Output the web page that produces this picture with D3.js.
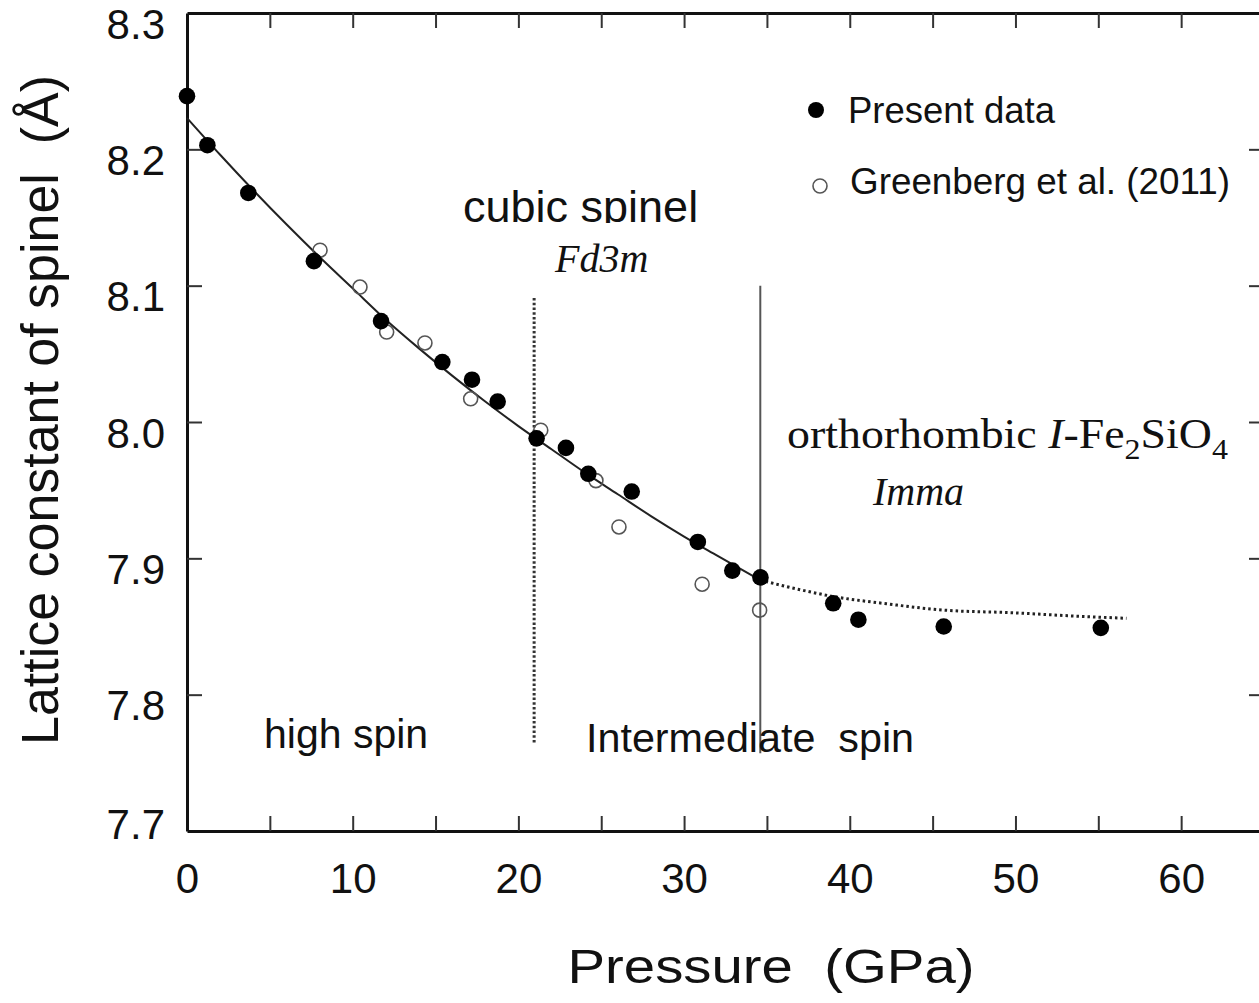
<!DOCTYPE html>
<html>
<head>
<meta charset="utf-8">
<script src="https://cdnjs.cloudflare.com/ajax/libs/d3/7.8.5/d3.min.js"></script>
<style>
body { margin: 0; background: #fff; }
text { font-family: "Liberation Sans", Arial, sans-serif; fill: #111; }
.serif { font-family: "Liberation Serif", "Times New Roman", serif; }
.frame path.domain { stroke: #111; stroke-width: 3px; }
.frame line { stroke: #333; stroke-width: 2px; }
.lbl path.domain { display: none; }
</style>
</head>
<body>
<div class="lattice"></div>
<script>
// PRESENT DATA (FILLED)
var presentP = [0, 1.23, 3.70, 7.66, 11.71, 15.41, 17.20, 18.75, 21.10, 22.87, 24.22, 26.84, 30.83, 32.91, 34.61, 39.0, 40.52, 45.67, 55.15]
var presentA = [8.239, 8.203, 8.168, 8.118, 8.074, 8.044, 8.031, 8.015, 7.988, 7.981, 7.962, 7.949, 7.912, 7.891, 7.886, 7.867, 7.855, 7.850, 7.849]

// GREENBERG ET AL. 2011 (OPEN)
var greenbergP = [8.03, 10.44, 12.05, 14.36, 17.12, 21.35, 24.68, 26.07, 31.09, 34.56]
var greenbergA = [8.126, 8.099, 8.066, 8.058, 8.017, 7.994, 7.957, 7.923, 7.881, 7.862]

// FITTED CURVE (SOLID) AND EXTENSION (DOTTED)
var fitP = [0, 2, 4, 6, 8, 10, 12, 14, 16, 18, 20, 22, 24, 26, 28, 30, 32, 34.6]
var fitA = [8.223, 8.196, 8.170, 8.145, 8.121, 8.098, 8.075, 8.054, 8.034, 8.015, 7.997, 7.980, 7.963, 7.947, 7.931, 7.916, 7.902, 7.884]
var extP = [34.6, 37, 39, 42, 45.7, 50, 53, 56.7]
var extA = [7.884, 7.877, 7.872, 7.867, 7.862, 7.860, 7.858, 7.856]

// BOUNDARIES: [pressure, bottom, top]
var spinBoundary = [20.95, 7.765, 8.092]
var phaseBoundary = [34.6, 7.757, 8.100]

// TICKS
var xLabels = [0, 10, 20, 30, 40, 50, 60]
var xMarks = [5, 10, 15, 20, 25, 30, 35, 40, 45, 50, 55, 60]
var yLabels = [7.7, 7.8, 7.9, 8.0, 8.1, 8.2, 8.3]
var yMarks = [7.8, 7.9, 8.0, 8.1, 8.2]

var W = 1259, H = 1003

var svg = d3.select(".lattice").append("svg")
    .attr("width", W)
    .attr("height", H)
    .style("display", "block")
    .style("background", "#fff")

var x = d3.scaleLinear().domain([0, 65]).range([187, 1264])
var y = d3.scaleLinear().domain([7.7, 8.3]).range([831, 13])

// FRAME WITH INWARD TICKS
var frame = svg.append("g").attr("class", "frame")
frame.append("g").attr("transform", "translate(0," + y(7.7) + ")")
    .call(d3.axisBottom(x).tickValues(xMarks).tickSize(-15).tickSizeOuter(0).tickFormat(""))
frame.append("g").attr("transform", "translate(0," + y(8.3) + ")")
    .call(d3.axisTop(x).tickValues(xMarks).tickSize(-15).tickSizeOuter(0).tickFormat(""))
frame.append("g").attr("transform", "translate(" + x(0) + ",0)")
    .call(d3.axisLeft(y).tickValues(yMarks).tickSize(-15).tickSizeOuter(0).tickFormat(""))
frame.append("g").attr("transform", "translate(" + x(65) + ",0)")
    .call(d3.axisRight(y).tickValues(yMarks).tickSize(-15).tickSizeOuter(0).tickFormat(""))

// TICK LABELS
var xl = svg.append("g").attr("class", "lbl")
    .attr("transform", "translate(0," + y(7.7) + ")")
    .call(d3.axisBottom(x).tickValues(xLabels).tickSize(0).tickFormat(d3.format("d")))
xl.selectAll("line").remove()
xl.selectAll("text")
    .attr("y", 62).attr("dy", 0)
    .style("font-size", "42px").style("fill", "#111")

var yl = svg.append("g").attr("class", "lbl")
    .attr("transform", "translate(" + x(0) + ",0)")
    .call(d3.axisLeft(y).tickValues(yLabels).tickSize(0).tickFormat(d3.format(".1f")))
yl.selectAll("line").remove()
yl.selectAll("text")
    .attr("x", -22)
    .attr("dy", function(d){ return Math.min(y(d) + 25, 838) - y(d) })
    .style("font-size", "42px").style("fill", "#111")

// AXIS TITLES
svg.append("text")
    .attr("transform", "translate(58," + 410 + ") rotate(-90)")
    .attr("text-anchor", "middle")
    .attr("textLength", 670)
    .attr("lengthAdjust", "spacingAndGlyphs")
    .style("font-size", "51px")
    .style("white-space", "pre")
    .text("Lattice constant of spinel  (Å)")

svg.append("text")
    .attr("x", 771).attr("y", 983)
    .attr("text-anchor", "middle")
    .attr("textLength", 407)
    .attr("lengthAdjust", "spacingAndGlyphs")
    .style("font-size", "49px")
    .style("white-space", "pre")
    .text("Pressure  (GPa)")

// CURVES
var line = d3.line()
    .x(function(d){ return x(d[0]) })
    .y(function(d){ return y(d[1]) })
    .curve(d3.curveMonotoneX)

svg.append("path")
    .datum(d3.zip(fitP, fitA))
    .attr("d", line)
    .attr("fill", "none")
    .attr("stroke", "#222")
    .attr("stroke-width", 2)

svg.append("path")
    .datum(d3.zip(extP, extA))
    .attr("d", line)
    .attr("fill", "none")
    .attr("stroke", "#222")
    .attr("stroke-width", 3)
    .attr("stroke-dasharray", "2.5,3")

// BOUNDARY LINES
svg.append("line")
    .attr("x1", x(spinBoundary[0])).attr("x2", x(spinBoundary[0]))
    .attr("y1", y(spinBoundary[1])).attr("y2", y(spinBoundary[2]))
    .attr("stroke", "#333").attr("stroke-width", 3)
    .attr("stroke-dasharray", "2.5,2.2")

svg.append("line")
    .attr("x1", x(phaseBoundary[0])).attr("x2", x(phaseBoundary[0]))
    .attr("y1", y(phaseBoundary[1])).attr("y2", y(phaseBoundary[2]))
    .attr("stroke", "#555").attr("stroke-width", 2)

// POINTS
svg.append("g").selectAll("circle")
    .data(d3.zip(greenbergP, greenbergA))
    .enter().append("circle")
    .attr("cx", function(d){ return x(d[0]) })
    .attr("cy", function(d){ return y(d[1]) })
    .attr("r", 7)
    .attr("fill", "none")
    .attr("stroke", "#555")
    .attr("stroke-width", 1.6)

svg.append("g").selectAll("circle")
    .data(d3.zip(presentP, presentA))
    .enter().append("circle")
    .attr("cx", function(d){ return x(d[0]) })
    .attr("cy", function(d){ return y(d[1]) })
    .attr("r", 8.3)
    .attr("fill", "#000")

// ANNOTATIONS
svg.append("text")
    .attr("x", 463).attr("y", 222)
    .style("font-size", "45px")
    .text("cubic spinel")

// WHITE BOX BEHIND SPACE GROUP CLIPS THE DESCENDER
svg.append("rect")
    .attr("x", 455).attr("y", 223).attr("width", 260).attr("height", 60)
    .attr("fill", "#fff")

svg.append("text").attr("class", "serif")
    .attr("x", 555).attr("y", 272)
    .style("font-size", "40px").style("font-style", "italic")
    .text("Fd3m")

var ortho = svg.append("text").attr("class", "serif")
    .attr("x", 787).attr("y", 448)
    .attr("textLength", 441)
    .attr("lengthAdjust", "spacingAndGlyphs")
    .style("font-size", "43px")
ortho.append("tspan").text("orthorhombic ")
ortho.append("tspan").style("font-style", "italic").text("I")
ortho.append("tspan").text("-Fe")
ortho.append("tspan").attr("dy", 11).style("font-size", "30px").text("2")
ortho.append("tspan").attr("dy", -11).text("SiO")
ortho.append("tspan").attr("dy", 11).style("font-size", "30px").text("4")

svg.append("text").attr("class", "serif")
    .attr("x", 873).attr("y", 505)
    .style("font-size", "40px").style("font-style", "italic")
    .text("Imma")

svg.append("text")
    .attr("x", 264).attr("y", 748)
    .style("font-size", "41px")
    .text("high spin")

svg.append("text")
    .attr("x", 586).attr("y", 752)
    .attr("textLength", 328)
    .attr("lengthAdjust", "spacingAndGlyphs")
    .style("font-size", "41px")
    .style("white-space", "pre")
    .text("Intermediate  spin")

// LEGEND
svg.append("circle").attr("cx", 816).attr("cy", 110).attr("r", 8).attr("fill", "#000")
svg.append("text").attr("x", 848).attr("y", 123).style("font-size", "36.5px").text("Present data")
svg.append("circle").attr("cx", 820).attr("cy", 186).attr("r", 7)
    .attr("fill", "none").attr("stroke", "#555").attr("stroke-width", 1.6)
svg.append("text").attr("x", 850).attr("y", 194)
    .attr("textLength", 380)
    .attr("lengthAdjust", "spacingAndGlyphs")
    .style("font-size", "37px").text("Greenberg et al. (2011)")
</script>
</body>
</html>
